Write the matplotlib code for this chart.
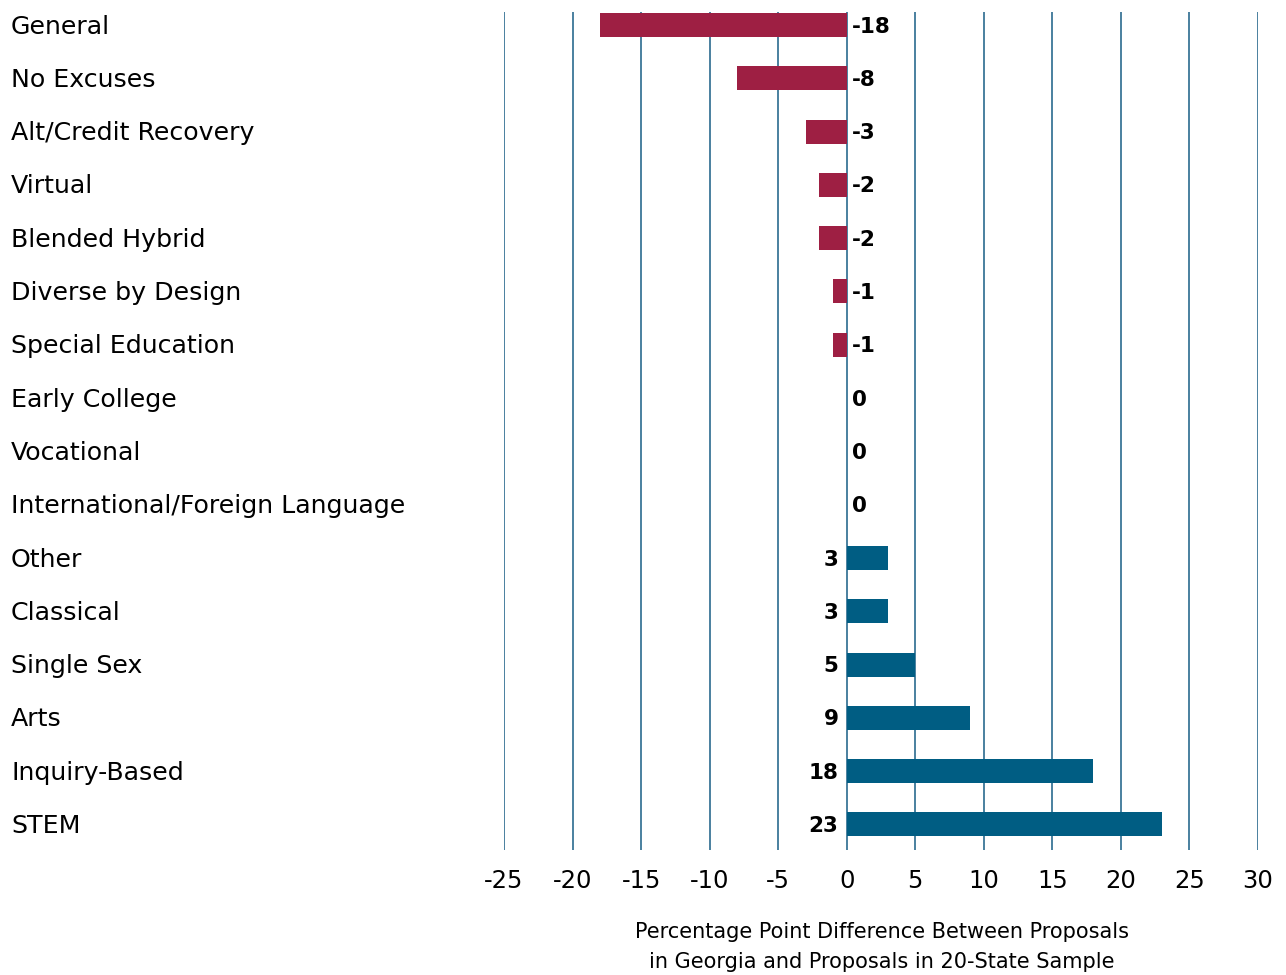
import numpy as np
import matplotlib.pyplot as plt
from matplotlib import transforms

categories = ['General', 'No Excuses', 'Alt/Credit Recovery', 'Virtual', 'Blended Hybrid',
              'Diverse by Design', 'Special Education', 'Early College', 'Vocational',
              'International/Foreign Language', 'Other', 'Classical', 'Single Sex', 'Arts',
              'Inquiry-Based', 'STEM']
values = [-18, -8, -3, -2, -2, -1, -1, 0, 0, 0, 3, 3, 5, 9, 18, 23]
xticks = [-25, -20, -15, -10, -5, 0, 5, 10, 15, 20, 25, 30]

plt.rcParams['font.family'] = ['DejaVu Sans']

red = '#9e1f43'
blue = '#005d83'
grid = '#2b6b8f'

fig = plt.figure(figsize=(12.86, 9.75), dpi=100)
ax = fig.add_axes([504 / 1286, 1 - 850 / 975, (1258 - 504) / 1286, (850 - 12) / 975])

y = np.arange(len(categories))
colors = [red if v < 0 else blue for v in values]
ax.barh(y, values, height=0.45, color=colors, zorder=3)

ax.set_xlim(-25, 30)
ax.set_ylim(15.48, -0.244)
ax.set_xticks(xticks)
ax.set_xticklabels([str(t) for t in xticks], fontsize=17.5)
ax.set_yticks([])
ax.tick_params(axis='x', length=0, pad=14)
for t in xticks:
    ax.axvline(t, color=grid, lw=1.2, zorder=1)
for s in ax.spines.values():
    s.set_visible(False)

# value labels
for i, v in enumerate(values):
    if v > 0:
        ax.text(-0.6, i + 0.03, str(v), ha='right', va='center', fontsize=15.5, fontweight='bold', zorder=4)
    else:
        ax.text(0.35, i + 0.03, str(v), ha='left', va='center', fontsize=15.5, fontweight='bold', zorder=4)

# category labels at left edge of figure
trans = transforms.blended_transform_factory(fig.transFigure, ax.transData)
for i, c in enumerate(categories):
    ax.text(11 / 1286, i + 0.03, c, transform=trans, ha='left', va='center', fontsize=18.2)

fig.text(882 / 1286, 1 - 947 / 975,
         'Percentage Point Difference Between Proposals\nin Georgia and Proposals in 20-State Sample',
         ha='center', va='center', fontsize=15, linespacing=1.65)

fig.savefig('out.png', dpi=100)
